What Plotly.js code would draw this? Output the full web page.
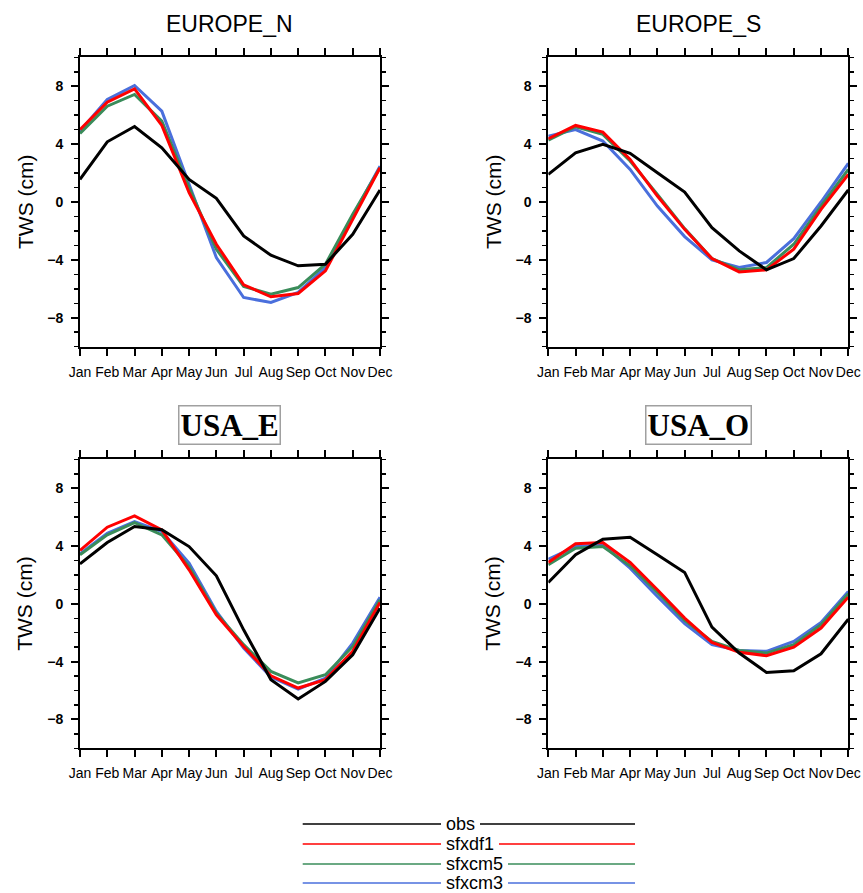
<!DOCTYPE html>
<html>
<head>
<meta charset="utf-8">
<script src="https://cdn.plot.ly/plotly-3.0.1.min.js"></script>
<style>html,body{margin:0;padding:0;background:#fff;}#chart{width:863px;height:893px;}</style>
</head>
<body>
<div id="chart"></div>
<script>
// ---- data ----
const months = ["Jan","Feb","Mar","Apr","May","Jun","Jul","Aug","Sep","Oct","Nov","Dec"];
const seriesNames = ["obs","sfxdf1","sfxcm5","sfxcm3"];
const seriesColors = ["#000000","#ff0000","#3a8c5a","#4a6fdc"];
const regionTitles = ["EUROPE_N","EUROPE_S","USA_E","USA_O"];

const europeN_obs    = [1.56, 4.16, 5.22, 3.75, 1.56, 0.25, -2.34, -3.68, -4.41, -4.30, -2.23, 0.83];
const europeN_sfxdf1 = [5.01, 6.90, 7.82, 5.29, 0.64, -2.92, -5.72, -6.55, -6.32, -4.76, -1.20, 2.37];
const europeN_sfxcm5 = [4.74, 6.62, 7.43, 5.59, 0.99, -3.26, -5.84, -6.37, -5.91, -4.30, -0.85, 2.37];
const europeN_sfxcm3 = [4.90, 7.08, 8.05, 6.28, 1.22, -3.84, -6.60, -6.94, -6.25, -4.53, -0.97, 2.48];

const europeS_obs    = [1.91, 3.40, 3.98, 3.36, 2.02, 0.69, -1.77, -3.38, -4.69, -3.91, -1.66, 0.83];
const europeS_sfxdf1 = [4.37, 5.29, 4.83, 2.94, 0.41, -1.89, -3.91, -4.83, -4.69, -3.26, -0.51, 1.91];
const europeS_sfxcm5 = [4.28, 5.20, 4.67, 2.83, 0.53, -1.84, -3.91, -4.69, -4.53, -2.92, -0.28, 2.25];
const europeS_sfxcm3 = [4.55, 5.01, 4.21, 2.25, -0.28, -2.39, -4.00, -4.53, -4.18, -2.53, 0.00, 2.67];

const usaE_obs    = [2.76, 4.24, 5.35, 5.12, 3.96, 1.94, -1.80, -5.25, -6.59, -5.37, -3.53, -0.30];
const usaE_sfxdf1 = [3.69, 5.30, 6.08, 5.12, 2.35, -0.76, -2.95, -4.98, -5.83, -5.25, -3.29, 0.09];
const usaE_sfxcm5 = [3.39, 4.77, 5.62, 4.77, 2.58, -0.65, -2.83, -4.68, -5.48, -4.91, -2.95, 0.28];
const usaE_sfxcm3 = [3.46, 4.88, 5.69, 5.00, 2.81, -0.53, -3.06, -5.07, -5.90, -5.14, -2.72, 0.46];

const usaO_obs    = [1.47, 3.39, 4.47, 4.61, 3.39, 2.17, -1.61, -3.41, -4.75, -4.63, -3.46, -1.06];
const usaO_sfxdf1 = [2.86, 4.15, 4.24, 2.86, 0.97, -0.99, -2.67, -3.36, -3.59, -3.00, -1.68, 0.46];
const usaO_sfxcm5 = [2.70, 3.85, 3.96, 2.63, 0.78, -1.15, -2.60, -3.23, -3.41, -2.83, -1.45, 0.69];
const usaO_sfxcm3 = [3.09, 3.96, 4.08, 2.47, 0.51, -1.38, -2.83, -3.23, -3.29, -2.60, -1.29, 0.85];

const regionData = [
  [europeN_obs, europeN_sfxdf1, europeN_sfxcm5, europeN_sfxcm3],
  [europeS_obs, europeS_sfxdf1, europeS_sfxcm5, europeS_sfxcm3],
  [usaE_obs, usaE_sfxdf1, usaE_sfxcm5, usaE_sfxcm3],
  [usaO_obs, usaO_sfxdf1, usaO_sfxcm5, usaO_sfxcm3]
];
const yTitle = "TWS (cm)";

// ---- layout geometry (pixels) ----
const W = 863, H = 893;
const px = v => v / W, py = v => 1 - v / H;
const colX = [[80, 380], [548.3, 848.3]];
const rowY = [[57.3, 346.7], [459.3, 748.3]];
const SANS = "Liberation Sans, Arial, sans-serif";

const traces = [];
const layout = {
  width: W, height: H,
  margin: {l: 0, r: 0, t: 0, b: 0},
  paper_bgcolor: "#fff", plot_bgcolor: "#fff",
  showlegend: false,
  font: {family: SANS, color: "#000"},
  annotations: [], shapes: []
};

for (let p = 0; p < 4; p++) {
  const c = p % 2, r = Math.floor(p / 2);
  const sfx = p === 0 ? "" : String(p + 1);
  const xa = "x" + sfx, ya = "y" + sfx;
  // draw order: sfxcm3, sfxcm5, sfxdf1, obs (obs on top)
  for (let s = 3; s >= 0; s--) {
    traces.push({
      type: "scatter", mode: "lines",
      x: months, y: regionData[p][s], name: seriesNames[s],
      line: {color: seriesColors[s], width: 3},
      xaxis: xa, yaxis: ya, hoverinfo: "skip"
    });
  }
  const common = {
    showline: true, linewidth: 2, linecolor: "#000", mirror: "ticks",
    ticks: "outside", ticklen: 7, tickwidth: 2, tickcolor: "#000",
    showgrid: false, zeroline: false, fixedrange: true
  };
  layout["xaxis" + sfx] = Object.assign({}, common, {
    domain: [px(colX[c][0]), px(colX[c][1])],
    anchor: ya, type: "category", range: [0, 11],
    tickfont: {size: 14, color: "#000", family: SANS},
    ticklabelstandoff: 4
  });
  layout["yaxis" + sfx] = Object.assign({}, common, {
    domain: [py(rowY[r][1]), py(rowY[r][0])],
    anchor: xa, range: [-10, 10], tick0: 0, dtick: 4,
    minor: {dtick: 1, ticks: "outside", ticklen: 4, tickwidth: 1.5, tickcolor: "#000"},
    tickfont: {size: 14, color: "#000", family: SANS, weight: "bold"},
    ticklabelstandoff: 5
  });

  const cx = (colX[c][0] + colX[c][1]) / 2;
  // panel title
  if (r === 0) {
    layout.annotations.push({
      xref: "paper", yref: "paper", x: px(cx), y: py(24),
      xanchor: "center", yanchor: "middle", showarrow: false,
      text: regionTitles[p],
      font: {family: SANS, size: 23, color: "#000"}
    });
  } else {
    layout.annotations.push({
      xref: "paper", yref: "paper", x: px(cx), y: py(425),
      xanchor: "center", yanchor: "middle", showarrow: false,
      text: "<b>" + regionTitles[p] + "</b>",
      bordercolor: "#a0a0a0", borderwidth: 1.5, borderpad: 1,
      font: {family: "Liberation Serif, Times New Roman, serif", size: 31, color: "#000"}
    });
  }
  // y-axis title
  layout.annotations.push({
    xref: "paper", yref: "paper",
    x: px(c === 0 ? 25 : 493), y: py((rowY[r][0] + rowY[r][1]) / 2),
    xanchor: "center", yanchor: "middle", showarrow: false, textangle: -90,
    text: yTitle,
    font: {family: SANS, size: 21, color: "#000"}
  });
}

// ---- legend (drawn manually) ----
const legY = [824, 844, 864, 883];
for (let s = 0; s < 4; s++) {
  layout.shapes.push({
    type: "line", xref: "paper", yref: "paper", layer: "below",
    x0: px(302.7), x1: px(635), y0: py(legY[s]), y1: py(legY[s]),
    line: {color: seriesColors[s], width: 1.5}
  });
  layout.annotations.push({
    xref: "paper", yref: "paper", x: px(441), y: py(legY[s]),
    xanchor: "left", yanchor: "middle", showarrow: false,
    text: "\u00a0" + seriesNames[s] + "\u00a0", bgcolor: "#fff", borderpad: 0, borderwidth: 0,
    font: {family: SANS, size: 18, color: "#000"}
  });
}

Plotly.newPlot("chart", traces, layout, {displayModeBar: false, staticPlot: true});
</script>
</body>
</html>
